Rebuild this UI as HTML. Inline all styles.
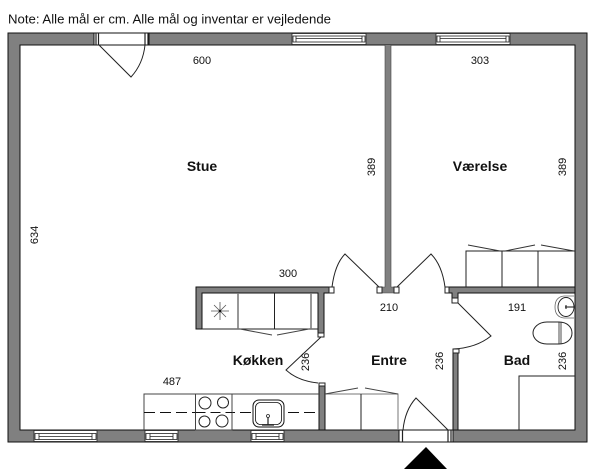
<!DOCTYPE html>
<html><head><meta charset="utf-8"><style>
html,body{margin:0;padding:0;background:#fff;width:600px;height:473px;overflow:hidden}
svg{display:block}
text{font-family:"Liberation Sans",sans-serif;fill:#111}
.s{font-size:11px;text-anchor:middle}
.b{font-size:14px;font-weight:bold;text-anchor:middle}
.w{fill:#808080;stroke:#111;stroke-width:1}
.l{fill:none;stroke:#222;stroke-width:1}
.g{fill:none;stroke:#777;stroke-width:1.5}
.j{fill:#fff;stroke:#222;stroke-width:1}
</style></head><body>
<svg width="600" height="473" viewBox="0 0 600 473" xmlns="http://www.w3.org/2000/svg">
<text x="8" y="23.500" font-size="13" textLength="323" lengthAdjust="spacingAndGlyphs">Note: Alle mål er cm. Alle mål og inventar er vejledende</text>

<!-- outer walls -->
<path class="w" fill-rule="evenodd" d="M8 33H587V442H8Z M20 45V430H575V45Z"/>
<!-- interior walls -->
<path class="w" d="M385 45H391V287H394V293H382V287H385Z" style="stroke:none"/>
<path class="l" d="M385 45V287H382V293H394V287H391V45" style="stroke:#444;stroke-width:.6"/>
<path class="w" d="M196 287H329V293H324V333H318V293H202V329H196Z"/>
<path class="w" d="M448 287H575V293H458V298H452V293H448Z"/>
<rect class="w" x="453" y="353" width="5" height="77"/>
<rect class="w" x="319" y="386" width="6" height="44"/>

<!-- jambs -->
<rect class="j" x="377" y="287" width="5" height="6"/>
<rect class="j" x="394" y="287" width="5" height="6"/>
<rect class="j" x="329" y="287" width="5" height="6"/>
<rect class="j" x="445" y="287" width="4" height="6"/>
<rect class="j" x="452" y="298" width="6" height="5"/>
<rect class="j" x="453" y="349" width="6" height="4"/>
<rect class="j" x="318" y="333" width="6" height="4"/>
<rect class="j" x="319" y="383" width="6" height="3"/>

<!-- door openings -->
<rect x="94" y="33" width="55" height="12" fill="#fff" stroke="#111"/>
<path class="l" d="M96 33V45M98.500 33V45M145 33V45M148 33V45" style="stroke-width:1.2"/>
<rect x="399" y="430" width="54" height="12" fill="#fff" stroke="#111"/>
<path class="l" d="M402.500 430V442M448 430V442M451 430V442" style="stroke-width:1.2"/>

<!-- door leaves -->
<path class="l" d="M99 45L131 77Q143 64 145 45"/>
<path class="l" d="M379 287L345 254Q335 264 332 287"/>
<path class="l" d="M397 287L431 254Q442 265 445 287"/>
<path class="l" d="M458 303L491 336Q476 348 453 349"/>
<path class="l" d="M321 337L286 370Q298 381 318 383"/>
<path class="l" d="M448 430L416 398Q405 410 403 430"/>

<!-- windows -->
<g fill="#fff" stroke="#222" stroke-width=".8">
<rect x="292" y="33.500" width="74" height="11"/><rect x="293" y="36" width="72" height="6"/><path d="M296 36V42M362 36V42M296 38.500H362"/>
<rect x="436" y="33.500" width="74" height="11"/><rect x="437" y="36" width="72" height="6"/><path d="M440 36V42M506 36V42M440 38.500H506"/>
<rect x="34" y="430.500" width="63" height="11"/><rect x="35" y="433.500" width="61" height="6"/><path d="M39 433.500V439.500M92 433.500V439.500M39 436.500H92"/>
<rect x="145" y="430.500" width="33" height="11"/><rect x="146" y="433.500" width="31" height="6"/><path d="M150 433.500V439.500M173 433.500V439.500M150 436.500H173"/>
<rect x="251" y="430.500" width="33" height="11"/><rect x="252" y="433.500" width="31" height="6"/><path d="M256 433.500V439.500M279 433.500V439.500M256 436.500H279"/>
</g>

<!-- entrance triangle -->
<path d="M426 447L447 469H404Z" fill="#000"/>

<!-- fridge/kitchen top unit -->
<path class="l" d="M202 329H318M274.500 293V329"/>
<path class="g" d="M238 293V329M311 293V329"/>
<path class="l" d="M240 329L272 335M277 335L309 329" style="stroke:#444"/>
<path d="M220 302V320M211 311H229M214 305L226 317M226 305L214 317" stroke="#555" stroke-width=".8" fill="none"/>
<circle cx="220" cy="311" r="1.300" fill="#111"/>

<!-- counter -->
<path class="l" d="M144 430V394H319" style="stroke:#444"/>
<path class="l" d="M144 412.500H319" stroke-dasharray="11 5" style="stroke:#111;stroke-width:1.100"/>
<rect x="195.500" y="394" width="36.500" height="36" fill="#fff" stroke="#444"/>
<path d="M195.500 412.500H232" stroke="#111" stroke-dasharray="10 5" fill="none"/>
<circle class="l" cx="205" cy="403" r="6"/><circle class="l" cx="223" cy="402.500" r="5.500"/>
<circle class="l" cx="204.500" cy="421.500" r="5.500"/><circle class="l" cx="222" cy="421" r="6"/>
<rect x="253" y="400" width="31" height="27" rx="6" fill="#fff" stroke="#111" stroke-width="1"/>
<rect x="255.500" y="402.500" width="26" height="22" rx="5" fill="#fff" stroke="#111" stroke-width=".8"/>
<path d="M268 415V425M262 425H274" stroke="#222" stroke-width="1.200" fill="none"/>
<circle cx="268" cy="416" r="1.500" fill="#fff" stroke="#222" stroke-width=".8"/>

<!-- entrance closet -->
<path class="g" d="M325 394H398V430" style="stroke-width:1"/>
<path class="l" d="M361 394V430"/>
<path class="l" d="M325 394L358 388M365 388L398 394" style="stroke:#444"/>

<!-- bedroom wardrobe -->
<path class="l" d="M466 287V251H575M502 251V287M538 251V287"/>
<path class="l" d="M468 245L500 251M505 251L535 245M541 245L574 251" style="stroke:#333"/>

<!-- bath -->
<path class="l" d="M519 430V376H575"/>
<path d="M574 296H564Q555 297 555 307Q555 317 564 318H574" fill="#fff" stroke="#666" stroke-width=".8"/>
<ellipse cx="566" cy="307" rx="8" ry="9.500" fill="#fff" stroke="#222" stroke-width=".9"/>
<path d="M565 307H574M566 305V309" stroke="#111" stroke-width="1" fill="none"/>
<path class="l" d="M559 322H547C538 322 533 328 533 333C533 338 538 344 547 344H559C567 344 572 339 572 333C572 327 567 322 559 322Z"/>
<path class="l" d="M559 322V344M561 322V344" style="stroke-width:.8"/>

<!-- labels -->
<text class="s" x="202" y="64">600</text>
<text class="s" x="480" y="64">303</text>
<text class="s" x="288" y="277">300</text>
<text class="s" x="389" y="311">210</text>
<text class="s" x="517" y="311">191</text>
<text class="s" x="172" y="385">487</text>
<text class="b" x="202" y="171">Stue</text>
<text class="b" x="480" y="171">Værelse</text>
<text class="b" x="258" y="365">Køkken</text>
<text class="b" x="389" y="365">Entre</text>
<text class="b" x="517" y="365">Bad</text>
<text class="s" transform="translate(375 167) rotate(-90)">389</text>
<text class="s" transform="translate(566 167) rotate(-90)">389</text>
<text class="s" transform="translate(38 235) rotate(-90)">634</text>
<text class="s" transform="translate(309 362) rotate(-90)">236</text>
<text class="s" transform="translate(443 361) rotate(-90)">236</text>
<text class="s" transform="translate(566 361) rotate(-90)">236</text>
</svg>
</body></html>
